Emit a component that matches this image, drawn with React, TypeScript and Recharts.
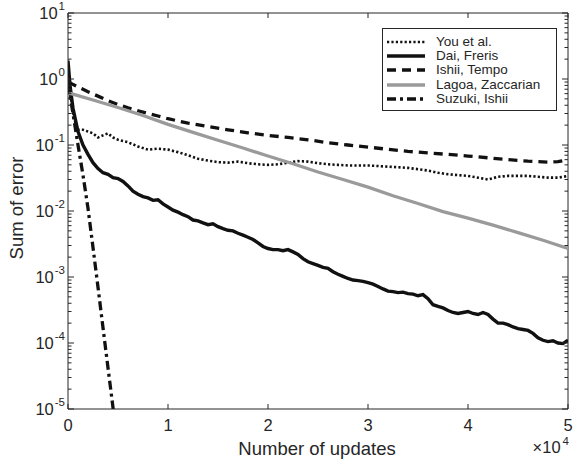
import React from 'react';
import { LineChart, Line, XAxis, YAxis, Legend, ReferenceLine, Label } from 'recharts';

// ---------------- data ----------------
const X_TICKS = [0, 10000, 20000, 30000, 40000, 50000];
const Y_DECADES = [1e-5, 1e-4, 1e-3, 1e-2, 1e-1, 1, 10];
const Y_MINOR_MULT = [2, 3, 4, 5, 6, 7, 8, 9];

const YOU_X = [0, 300, 600, 1000, 1500, 2000, 2500, 3000, 3500, 4000, 4500, 5000, 6000, 7000, 8000, 9000, 10000, 11000, 12000, 13000, 14000, 15000, 16000, 17000, 18000, 19000, 20000, 21000, 22000, 23000, 24000, 25000, 26000, 27000, 28000, 29000, 30000, 31000, 32000, 33000, 34000, 35000, 36000, 37000, 38000, 39000, 40000, 41000, 42000, 43000, 44000, 45000, 46000, 47000, 48000, 49000, 50000];
const YOU_Y = [0.9, 0.5, 0.25, 0.17, 0.17, 0.16, 0.15, 0.13, 0.14, 0.15, 0.13, 0.12, 0.11, 0.095, 0.085, 0.088, 0.085, 0.078, 0.07, 0.062, 0.058, 0.055, 0.054, 0.056, 0.053, 0.051, 0.05, 0.051, 0.054, 0.057, 0.056, 0.053, 0.051, 0.05, 0.049, 0.049, 0.049, 0.048, 0.047, 0.046, 0.045, 0.043, 0.041, 0.038, 0.036, 0.035, 0.034, 0.032, 0.030, 0.033, 0.034, 0.034, 0.034, 0.033, 0.032, 0.032, 0.034];

const DAI_X = [0, 200, 500, 1000, 1500, 2000, 2500, 3000, 3500, 4000, 4500, 5000, 5500, 6000, 6500, 7000, 7500, 8000, 8500, 9000, 9500, 10000, 10500, 11000, 11500, 12000, 12500, 13000, 13500, 14000, 14500, 15000, 15500, 16000, 16500, 17000, 17500, 18000, 18500, 19000, 19500, 20000, 20500, 21000, 21500, 22000, 22500, 23000, 23500, 24000, 24500, 25000, 25500, 26000, 26500, 27000, 27500, 28000, 28500, 29000, 29500, 30000, 30500, 31000, 31500, 32000, 32500, 33000, 33500, 34000, 34500, 35000, 35500, 36000, 36500, 37000, 37500, 38000, 38500, 39000, 39500, 40000, 40500, 41000, 41500, 42000, 42500, 43000, 43500, 44000, 44500, 45000, 45500, 46000, 46500, 47000, 47500, 48000, 48500, 49000, 49500, 50000];
const DAI_Y = [1.9, 0.8, 0.36, 0.16, 0.1, 0.072, 0.054, 0.044, 0.038, 0.036, 0.032, 0.031, 0.028, 0.024, 0.02, 0.018, 0.0165, 0.0158, 0.0145, 0.0148, 0.0128, 0.0115, 0.0103, 0.0096, 0.0088, 0.0082, 0.0073, 0.0071, 0.0066, 0.0062, 0.0064, 0.0058, 0.0054, 0.0051, 0.005, 0.0046, 0.0043, 0.004, 0.0037, 0.0033, 0.0029, 0.0027, 0.0026, 0.0026, 0.0025, 0.0026, 0.0024, 0.0022, 0.0019, 0.0017, 0.0016, 0.0015, 0.0014, 0.00135, 0.0012, 0.0011, 0.00102, 0.00095, 0.0009, 0.00088, 0.00086, 0.00082, 0.00078, 0.00072, 0.00066, 0.00061, 0.0006, 0.00058, 0.00059, 0.00056, 0.00055, 0.00052, 0.00054, 0.00047, 0.00038, 0.00036, 0.00034, 0.00031, 0.00029, 0.00028, 0.00029, 0.0003, 0.00028, 0.00027, 0.00029, 0.00027, 0.00023, 0.0002, 0.0002, 0.00019, 0.000175, 0.000165, 0.00016, 0.000155, 0.00014, 0.00012, 0.00011, 0.000105, 0.000108, 0.0001, 0.000098, 0.00011];

const ISHII_X = [0, 1000, 2000, 3000, 4000, 5000, 6000, 7000, 8000, 9000, 10000, 12000, 14000, 16000, 18000, 20000, 22000, 24000, 26000, 28000, 30000, 32000, 34000, 36000, 38000, 40000, 42000, 44000, 46000, 48000, 49000, 50000];
const ISHII_Y = [0.9, 0.76, 0.64, 0.55, 0.47, 0.41, 0.365, 0.33, 0.3, 0.275, 0.25, 0.215, 0.19, 0.17, 0.153, 0.14, 0.13, 0.12, 0.108, 0.1, 0.093, 0.086, 0.08, 0.076, 0.072, 0.068, 0.064, 0.06, 0.057, 0.055, 0.056, 0.06];

const LAGOA_X = [0, 2500, 5000, 7500, 10000, 12500, 15000, 17500, 20000, 22500, 25000, 27500, 30000, 32500, 35000, 37500, 40000, 42500, 45000, 47500, 50000];
const LAGOA_Y = [0.62, 0.48, 0.37, 0.28, 0.205, 0.155, 0.118, 0.09, 0.068, 0.052, 0.039, 0.03, 0.023, 0.017, 0.013, 0.0098, 0.0078, 0.0061, 0.0047, 0.0036, 0.0027];

const SUZUKI_X = [0, 500, 1000, 1500, 2000, 2500, 3000, 3500, 4000, 4500, 5000];
const SUZUKI_Y = [0.85, 0.3, 0.1, 0.035, 0.011, 0.0028, 0.0007, 0.00017, 0.000042, 0.0000105, 0.0000025];

const zip = (xs: number[], ys: number[]) => xs.map((x, i) => ({ x, y: ys[i] }));

// ---------------- styles ----------------
const FONT = '"Liberation Sans", Arial, Helvetica, sans-serif';
const AXIS = '#262626';
const PLOT_W = 500;
const PLOT_H = 396;
const TM = 4;
const TICK_FS = 16.5;
const SUP_FS = 11.5;

const SERIES = [
  { name: 'You et al.', data: zip(YOU_X, YOU_Y), color: '#111111', width: 2.6, dash: '2.2 2.2' },
  { name: 'Dai, Freris', data: zip(DAI_X, DAI_Y), color: '#111111', width: 3.4, dash: undefined },
  { name: 'Ishii, Tempo', data: zip(ISHII_X, ISHII_Y), color: '#111111', width: 3.3, dash: '9 6' },
  { name: 'Lagoa, Zaccarian', data: zip(LAGOA_X, LAGOA_Y), color: '#9a9a9a', width: 3.3, dash: undefined },
  { name: 'Suzuki, Ishii', data: zip(SUZUKI_X, SUZUKI_Y), color: '#111111', width: 3.3, dash: '9 4 3 4' },
];

const Y_TICKS: number[] = [];
Y_DECADES.forEach((d, i) => {
  Y_TICKS.push(d);
  if (i < Y_DECADES.length - 1) Y_MINOR_MULT.forEach((m) => Y_TICKS.push(d * m));
});

function XTick(props: any) {
  const { x, y, payload } = props;
  const v = payload.value as number;
  const ay = y - TM;
  return (
    <g>
      <line x1={x} x2={x} y1={ay} y2={ay - 5} stroke={AXIS} strokeWidth={1} />
      <line x1={x} x2={x} y1={ay - PLOT_H} y2={ay - PLOT_H + 5} stroke={AXIS} strokeWidth={1} />
      <text x={x} y={ay + 22} textAnchor="middle" fontSize={TICK_FS} fill={AXIS} fontFamily={FONT}>
        {v / 10000}
      </text>
      {v === 50000 && (
        <text x={x + 1} y={ay + 44} textAnchor="end" fontSize={TICK_FS} fill={AXIS} fontFamily={FONT}>
          ×10
          <tspan dy={-8} dx={2} fontSize={SUP_FS}>4</tspan>
        </text>
      )}
    </g>
  );
}

function YTick(props: any) {
  const { x, y, payload } = props;
  const v = payload.value as number;
  const lg = Math.log10(v);
  const e = Math.round(lg);
  const major = Math.abs(lg - e) < 1e-6;
  const ax = x + TM;
  const len = major ? 6 : 3.5;
  return (
    <g>
      <line x1={ax} x2={ax + len} y1={y} y2={y} stroke={AXIS} strokeWidth={1} />
      <line x1={ax + PLOT_W} x2={ax + PLOT_W - len} y1={y} y2={y} stroke={AXIS} strokeWidth={1} />
      {major && (
        <text x={ax - 3} y={y + 6} textAnchor="end" fontSize={TICK_FS} fill={AXIS} fontFamily={FONT}>
          10
          <tspan dy={-9} dx={1} fontSize={SUP_FS}>{String(e)}</tspan>
        </text>
      )}
    </g>
  );
}

const renderLegend = () => (
  <div
    style={{
      boxSizing: 'border-box',
      width: 175,
      height: 83,
      border: `1px solid ${AXIS}`,
      background: '#fff',
      padding: '6px 0 0 4px',
      fontFamily: FONT,
      fontSize: 13.5,
      color: AXIS,
    }}
  >
    {SERIES.map((s) => (
      <div key={s.name} style={{ display: 'flex', alignItems: 'center', height: 14.2 }}>
        <svg width={38} height={8} style={{ display: 'block' }}>
          <line x1={0} x2={38} y1={4} y2={4} stroke={s.color} strokeWidth={s.width} strokeDasharray={s.dash} />
        </svg>
        <span style={{ marginLeft: 11, lineHeight: '14px', whiteSpace: 'nowrap' }}>{s.name}</span>
      </div>
    ))}
  </div>
);

export default function App() {
  return (
    <div style={{ position: 'absolute', left: 0, top: 0, width: 573, height: 461, background: '#fff' }}>
      <LineChart width={573} height={461} margin={{ top: 13, right: 5, bottom: 0, left: 0 }} style={{ fontFamily: FONT }}>
        <XAxis
          type="number"
          dataKey="x"
          domain={[0, 50000]}
          ticks={X_TICKS}
          interval={0}
          allowDataOverflow
          height={52}
          tickSize={0}
          tickMargin={TM}
          tick={<XTick />}
          axisLine={{ stroke: AXIS, strokeWidth: 1 }}
          tickLine={false}
        >
          <Label
            content={() => (
              <text x={317} y={455} textAnchor="middle" fontSize={18.5} fill={AXIS} fontFamily={FONT}>
                Number of updates
              </text>
            )}
          />
        </XAxis>
        <YAxis
          type="number"
          scale="log"
          domain={[1e-5, 10]}
          ticks={Y_TICKS}
          interval={0}
          allowDataOverflow
          width={68}
          tickSize={0}
          tickMargin={TM}
          tick={<YTick />}
          axisLine={{ stroke: AXIS, strokeWidth: 1 }}
          tickLine={false}
        >
          <Label
            content={() => (
              <text
                x={16}
                y={208}
                transform="rotate(-90, 16, 208)"
                textAnchor="middle"
                dominantBaseline="central"
                fontSize={18.5}
                fill={AXIS}
                fontFamily={FONT}
              >
                Sum of error
              </text>
            )}
          />
        </YAxis>
        <ReferenceLine y={10} stroke={AXIS} strokeWidth={1} />
        <ReferenceLine x={50000} stroke={AXIS} strokeWidth={1} />
        {SERIES.map((s) => (
          <Line
            key={s.name}
            name={s.name}
            data={s.data}
            dataKey="y"
            type="linear"
            stroke={s.color}
            strokeWidth={s.width}
            strokeDasharray={s.dash}
            dot={false}
            activeDot={false}
            isAnimationActive={false}
          />
        ))}
        <Legend
          layout="horizontal"
          verticalAlign="middle"
          align="center"
          content={renderLegend}
          wrapperStyle={{ left: 382, top: 28, width: 175, height: 83 }}
        />
      </LineChart>
    </div>
  );
}
